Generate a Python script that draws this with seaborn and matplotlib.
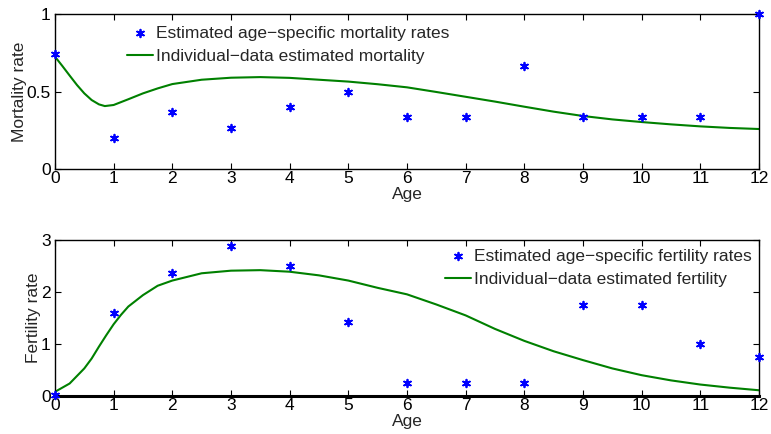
import matplotlib
matplotlib.use("Agg")
import matplotlib.pyplot as plt
import seaborn as sns
import pandas as pd

ages = [0, 1, 2, 3, 4, 5, 6, 7, 8, 9, 10, 11, 12]
mortality_points = [0.74, 0.20, 0.37, 0.265, 0.40, 0.50, 0.333, 0.333, 0.667, 0.333, 0.333, 0.333, 1.0]
fertility_points = [0.02, 1.60, 2.36, 2.88, 2.50, 1.42, 0.25, 0.25, 0.25, 1.75, 1.75, 1.00, 0.75]

curve_age = [0, 0.125, 0.25, 0.375, 0.5, 0.625, 0.75, 0.85, 1, 1.25, 1.5, 1.75, 2, 2.5, 3, 3.5,
             4, 4.5, 5, 5.5, 6, 6.5, 7, 7.5, 8, 8.5, 9, 9.5, 10, 10.5, 11, 11.5, 12]
mortality_curve = [0.725, 0.665, 0.603, 0.542, 0.488, 0.445, 0.417, 0.406, 0.413, 0.45, 0.488,
                   0.52, 0.548, 0.576, 0.589, 0.593, 0.588, 0.576, 0.564, 0.547, 0.527, 0.497,
                   0.466, 0.435, 0.402, 0.37, 0.342, 0.32, 0.303, 0.288, 0.275, 0.265, 0.258]
curve_age_f = [0, 0.25, 0.5, 0.625, 0.75, 0.875, 1, 1.125, 1.25, 1.5, 1.75, 2, 2.25, 2.5, 3,
               3.5, 4, 4.5, 5, 5.5, 6, 6.5, 7, 7.5, 8, 8.5, 9, 9.5, 10, 10.5, 11, 11.5, 12]
fertility_curve = [0.08, 0.24, 0.53, 0.72, 0.95, 1.17, 1.38, 1.56, 1.72, 1.94, 2.12, 2.22, 2.29,
                   2.36, 2.41, 2.42, 2.39, 2.32, 2.22, 2.08, 1.955, 1.76, 1.55, 1.29, 1.06,
                   0.86, 0.69, 0.53, 0.40, 0.30, 0.22, 0.16, 0.11]

x_ticks = list(range(0, 13))
mort_yticks = [0, 0.5, 1]
mort_yticklabels = ["0", "0.5", "1"]
fert_yticks = [0, 1, 2, 3]
fert_yticklabels = ["0", "1", "2", "3"]

sns.set_style("ticks")
plt.rcParams['font.family'] = ['Liberation Sans', 'DejaVu Sans']
plt.rcParams['xtick.direction'] = 'in'
plt.rcParams['ytick.direction'] = 'in'
plt.rcParams['xtick.top'] = True
plt.rcParams['ytick.right'] = True

fig = plt.figure(figsize=(7.71, 4.34), dpi=100)
ax1 = fig.add_axes([0.0713, 0.6106, 0.9131, 0.3571])
ax2 = fig.add_axes([0.0713, 0.0876, 0.9131, 0.3594])

blue = (0, 0, 1)
green = (0, 0.5, 0)
asterisk = (6, 2, 0)
FS = 12.5

df_mp = pd.DataFrame({"Age": ages, "rate": mortality_points})
df_mc = pd.DataFrame({"Age": curve_age, "rate": mortality_curve})
df_fp = pd.DataFrame({"Age": ages, "rate": fertility_points})
df_fc = pd.DataFrame({"Age": curve_age_f, "rate": fertility_curve})

sns.scatterplot(data=df_mp, x="Age", y="rate", ax=ax1, marker=asterisk, color=blue, s=30,
                linewidth=1.3, edgecolor=blue, clip_on=False, zorder=3,
                label="Estimated age\u2212specific mortality rates")
sns.lineplot(data=df_mc, x="Age", y="rate", ax=ax1, color=green, linewidth=1.5,
             label="Individual\u2212data estimated mortality")

sns.scatterplot(data=df_fp, x="Age", y="rate", ax=ax2, marker=asterisk, color=blue, s=30,
                linewidth=1.3, edgecolor=blue, clip_on=False, zorder=3,
                label="Estimated age\u2212specific fertility rates")
sns.lineplot(data=df_fc, x="Age", y="rate", ax=ax2, color=green, linewidth=1.5,
             label="Individual\u2212data estimated fertility")

for ax, yt, ytl, ylab in [(ax1, mort_yticks, mort_yticklabels, "Mortality rate"),
                          (ax2, fert_yticks, fert_yticklabels, "Fertility rate")]:
    ax.set_xlim(0, 12)
    ax.set_ylim(yt[0], yt[-1])
    ax.set_xticks(x_ticks)
    ax.set_xticklabels([str(t) for t in x_ticks])
    ax.set_yticks(yt)
    ax.set_yticklabels(ytl)
    ax.tick_params(labelsize=FS, length=4, width=0.8, colors='black')
    ax.tick_params(axis='x', pad=1.5)
    ax.tick_params(axis='y', pad=3)
    ax.set_xlabel("Age", fontsize=FS, labelpad=1)
    ax.set_ylabel(ylab, fontsize=FS, labelpad=0)
    for sp in ax.spines.values():
        sp.set_visible(True)
        sp.set_linewidth(1.0)
        sp.set_color('black')

ax2.spines['bottom'].set_linewidth(2.2)

ax1.legend(loc="upper left", bbox_to_anchor=(0.085, 1.005), frameon=False, fontsize=FS,
           handlelength=1.5, handletextpad=0.15, labelspacing=0.5, borderaxespad=0.3)
ax2.legend(loc="upper right", bbox_to_anchor=(1.004, 1.013), frameon=False, fontsize=FS,
           handlelength=1.5, handletextpad=0.15, labelspacing=0.5, borderaxespad=0.2)

fig.savefig("out.png", dpi=100)
